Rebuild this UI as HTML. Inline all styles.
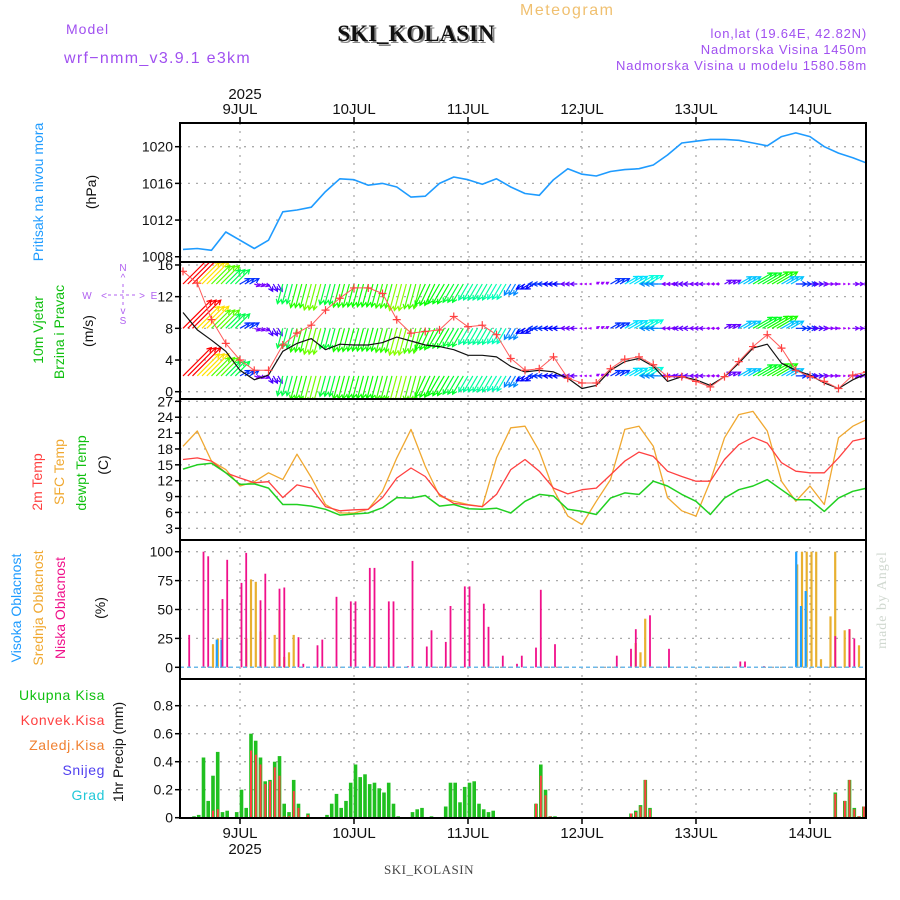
<!DOCTYPE html>
<html><head><meta charset="utf-8"><style>
html,body{margin:0;padding:0;background:#fff;}
svg{display:block;font-family:"Liberation Sans",sans-serif;}
</style></head><body>
<svg id="chart" width="900" height="900" viewBox="0 0 900 900" xmlns="http://www.w3.org/2000/svg">
<g>
<text x="66" y="34" font-size="14" fill="#a050f0" letter-spacing="1">Model</text>
<text x="64" y="63" font-size="16" fill="#a050f0" letter-spacing="1.3">wrf−nmm_v3.9.1 e3km</text>
<text x="520" y="15" font-size="16" fill="#f0c070" letter-spacing="1.5">Meteogram</text>
<text x="418" y="43" font-size="23" font-weight="bold" font-family="Liberation Serif, serif" text-anchor="middle" fill="#888">SKI_KOLASIN</text>
<text x="416" y="41" font-size="23" font-weight="bold" font-family="Liberation Serif, serif" text-anchor="middle" fill="#111">SKI_KOLASIN</text>
<text x="867" y="38" font-size="13" fill="#a050f0" text-anchor="end" letter-spacing="0.8">lon,lat (19.64E, 42.82N)</text>
<text x="867" y="54" font-size="13" fill="#a050f0" text-anchor="end" letter-spacing="0.8">Nadmorska Visina 1450m</text>
<text x="867" y="70" font-size="13" fill="#a050f0" text-anchor="end" letter-spacing="0.8">Nadmorska Visina u modelu 1580.58m</text>
<text x="245" y="99" font-size="15" text-anchor="middle" fill="#111">2025</text>
<text x="384" y="874" font-size="13" font-family="Liberation Serif, serif" fill="#444" letter-spacing="0.5">SKI_KOLASIN</text>
<text x="245" y="854" font-size="15" text-anchor="middle" fill="#111">2025</text>
<text transform="translate(886,600) rotate(-90)" font-size="14" font-family="Liberation Serif, serif" fill="#d0d8d0" text-anchor="middle" letter-spacing="1">made by Angel</text>
</g>
<g>
<text transform="translate(43,192) rotate(-90)" font-size="14" fill="#1e9bff" text-anchor="middle">Pritisak na nivou mora</text>
<text transform="translate(96,192) rotate(-90)" font-size="14" fill="#111" text-anchor="middle">(hPa)</text>
<text transform="translate(43,330) rotate(-90)" font-size="14" fill="#10c010" text-anchor="middle">10m Vjetar</text>
<text transform="translate(64,332) rotate(-90)" font-size="14" fill="#10c010" text-anchor="middle">Brzina i Pravac</text>
<text transform="translate(93,331) rotate(-90)" font-size="14" fill="#111" text-anchor="middle">(m/s)</text>
<g fill="#b060f0" font-size="10" stroke="none">
<text x="123" y="271" text-anchor="middle">N</text>
<text x="87" y="299" text-anchor="middle">W</text>
<text x="154" y="299" text-anchor="middle">E</text>
<text x="123" y="324" text-anchor="middle">S</text>
<text x="123" y="281" text-anchor="middle">^</text>
<text x="123" y="314" text-anchor="middle">v</text>
<text x="104" y="299" text-anchor="middle">&lt;</text>
<text x="142" y="299" text-anchor="middle">&gt;</text>
<line x1="123" y1="284" x2="123" y2="306" stroke="#b060f0" stroke-dasharray="3,3"/>
<line x1="108" y1="295" x2="138" y2="295" stroke="#b060f0" stroke-dasharray="3,3"/>
</g>
<text transform="translate(42,482) rotate(-90)" font-size="14" fill="#ff4040" text-anchor="middle">2m Temp</text>
<text transform="translate(64,472) rotate(-90)" font-size="14" fill="#f0a830" text-anchor="middle">SFC Temp</text>
<text transform="translate(86,473) rotate(-90)" font-size="14" fill="#10c010" text-anchor="middle">dewpt Temp</text>
<text transform="translate(108,465) rotate(-90)" font-size="14" fill="#111" text-anchor="middle">(C)</text>
<text transform="translate(21,608) rotate(-90)" font-size="14" fill="#1e9bff" text-anchor="middle">Visoka Oblacnost</text>
<text transform="translate(43,608) rotate(-90)" font-size="14" fill="#f0a830" text-anchor="middle">Srednja Oblacnost</text>
<text transform="translate(65,608) rotate(-90)" font-size="14" fill="#f0108a" text-anchor="middle">Niska Oblacnost</text>
<text transform="translate(105,608) rotate(-90)" font-size="14" fill="#111" text-anchor="middle">(%)</text>
<text x="105" y="700" font-size="14" fill="#10c010" text-anchor="end" letter-spacing="0.6">Ukupna Kisa</text>
<text x="105" y="725" font-size="14" fill="#ff4040" text-anchor="end" letter-spacing="0.6">Konvek.Kisa</text>
<text x="105" y="750" font-size="14" fill="#f08030" text-anchor="end" letter-spacing="0.6">Zaledj.Kisa</text>
<text x="105" y="775" font-size="14" fill="#5040f0" text-anchor="end" letter-spacing="0.6">Snijeg</text>
<text x="105" y="800" font-size="14" fill="#20c8d8" text-anchor="end" letter-spacing="0.6">Grad</text>
<text transform="translate(123,752) rotate(-90)" font-size="14" fill="#111" text-anchor="middle">1hr Precip (mm)</text>
</g>
<g id="grid"></g>
<g id="marks"></g>
<g id="frame"></g>
</svg>
<script>
// ---- data (3-hourly, hours from 9 JUL 00Z) ----
var hours3 = [-12,-9,-6,-3,0,3,6,9,12,15,18,21,24,27,30,33,36,39,42,45,48,51,54,57,60,63,66,69,72,75,78,81,84,87,90,93,96,99,102,105,108,111,114,117,120,123,126,129,132];
var pressure = [1008.8,1008.9,1008.7,1010.7,1009.8,1008.9,1009.8,1012.9,1013.1,1013.4,1015.1,1016.5,1016.4,1015.8,1016.0,1015.6,1014.5,1014.6,1016.0,1016.7,1016.4,1015.9,1016.5,1015.6,1014.9,1014.7,1016.4,1017.6,1017.0,1016.8,1017.3,1017.5,1017.6,1018.0,1019.1,1020.4,1020.6,1020.8,1020.8,1020.7,1020.4,1020.1,1021.1,1021.5,1021.1,1020.0,1019.3,1018.8,1018.2];
var temp2m = [16.0,16.3,15.7,13.5,12.5,11.6,11.8,8.8,11.2,10.6,7.1,6.3,6.5,6.6,8.8,12.5,14.4,12.8,9.4,7.7,7.4,7.1,9.4,14.1,16.0,13.8,10.6,9.5,10.3,10.6,13.1,15.7,17.4,16.6,13.8,12.8,11.9,11.9,16.0,18.8,20.2,19.1,15.4,13.8,13.5,13.5,16.3,19.5,20.1];
var tempSfc = [18.5,21.4,15.7,14.1,11.0,11.8,13.5,12.2,17.0,12.6,7.5,5.9,5.9,6.6,10.0,16.3,21.7,14.7,9.1,8.1,7.5,7.1,16.3,22.0,22.3,17.6,10.3,5.3,3.7,8.1,12.2,21.7,22.3,18.5,8.8,6.3,5.3,11.9,20.1,24.5,25.1,21.4,11.9,8.1,11.0,7.5,20.1,22.3,23.6];
var tempDew = [14.2,15.0,15.3,13.5,11.3,11.4,10.6,7.5,7.5,7.2,6.6,5.5,5.7,5.9,6.9,8.8,8.7,9.2,7.2,7.5,6.7,6.6,6.8,5.9,8.1,9.4,9.1,6.6,6.2,5.6,8.7,9.7,9.4,11.9,11.0,9.4,8.1,5.6,8.7,10.3,11.0,12.2,10.3,8.4,8.4,6.2,8.7,10.0,10.6];
var windGust = [15.2,13.7,9.1,6.1,4.0,2.7,2.7,5.9,7.4,8.4,10.3,11.8,13.1,13.1,12.4,9.1,7.4,7.6,7.8,9.5,8.2,8.4,7.2,4.2,2.7,2.9,4.4,1.7,1.1,1.1,2.9,4.1,4.4,3.4,1.9,1.9,1.3,0.6,1.9,3.8,5.7,7.2,5.5,2.7,1.9,1.3,0.4,2.1,2.5];
var windSpeed = [10.0,7.8,6.5,5.1,2.7,1.5,2.1,5.1,6.1,6.7,5.3,6.0,5.9,5.9,6.2,6.9,6.4,5.9,5.7,5.3,4.6,4.6,4.4,3.2,2.5,2.7,2.5,1.7,0.4,0.8,2.7,3.8,4.2,3.2,1.3,1.9,1.5,0.8,1.9,3.6,5.5,6.0,3.6,2.7,2.1,1.1,0.4,1.5,2.3];
var windDir = [45,45,45,45,60,110,150,195,195,195,195,195,195,195,195,195,195,205,210,210,210,210,210,210,240,270,270,270,270,60,60,60,60,270,270,270,270,270,60,60,60,60,60,90,90,90,90,90,90];
var pTicks = [1008,1012,1016,1020];
var wTicks = [0,4,8,12,16];
var tTicks = [3,6,9,12,15,18,21,24,27];
var cTicks = [0,25,50,75,100];
var rTicks = [0,0.2,0.4,0.6,0.8];
var rTickLabels = ["0","0.2","0.4","0.6","0.8"];
var dayLabels = ["9JUL","10JUL","11JUL","12JUL","13JUL","14JUL"];
var dayHours = [0,24,48,72,96,120];
// cloud cover events (hour, %)
var lowCloudHours = [-11,-8,-7,-4,-3,0,1,4,5,8,9,12,13,16,17,20,23,24,27,28,31,32,35,36,39,40,43,44,47,48,51,52,55,58,59,62,63,66,79,82,83,86,90,105,106,110,125,128,129];
var lowCloudVals = [28,100,96,59,93,73,99,58,81,68,69,26,3,19,24,61,57,57,86,86,57,57,1,92,18,32,22,53,70,70,55,35,10,3,10,17,67,20,10,16,33,45,16,5,5,1,27,33,25];
var midCloudHours = [-6,-5,1,2,3,4,7,8,9,10,11,83,84,85,117,118,119,120,121,122,124,125,127,128,130];
var midCloudVals = [20,25,25,76,74,31,28,50,9,13,28,21,13,42,89,100,100,100,100,7,44,100,32,33,19];
var highCloudHours = [-5,-4,117,118,119];
var highCloudVals = [24,24,100,53,66];
// precipitation (hour, mm)
var rainHours = [-10,-9,-8,-7,-6,-5,-4,-3,-1,0,1,2,3,4,5,6,7,8,9,10,11,12,14,18,19,20,21,22,23,24,25,26,27,28,29,30,31,32,33,36,37,38,40,43,44,45,46,47,48,49,50,51,52,53,62,63,64,65,66,82,83,84,85,86,125,127,128,129,130,131];
var rainVals = [0.01,0.02,0.43,0.12,0.30,0.47,0.04,0.05,0.04,0.20,0.07,0.60,0.55,0.43,0.26,0.27,0.40,0.44,0.10,0.04,0.27,0.10,0.03,0.02,0.10,0.17,0.07,0.12,0.25,0.38,0.29,0.31,0.24,0.25,0.21,0.18,0.25,0.10,0.01,0.04,0.06,0.07,0.01,0.08,0.25,0.25,0.11,0.22,0.25,0.26,0.10,0.06,0.04,0.05,0.10,0.38,0.20,0.01,0.01,0.03,0.05,0.09,0.27,0.07,0.18,0.12,0.27,0.07,0.01,0.08];
var convHours = [-6,-5,2,3,4,5,6,7,8,9,10,11,12,14,62,63,64,65,82,83,84,85,86,125,127,128,129,130,131];
var convVals = [0.05,0.06,0.48,0.45,0.38,0.24,0.26,0.36,0.30,0.01,0.01,0.19,0.07,0.02,0.10,0.30,0.16,0.01,0.03,0.04,0.08,0.27,0.06,0.17,0.12,0.27,0.06,0.01,0.08];

// ---- scales ----
var L=180, R=866;
function xh(h){return 240 + h*4.75;}
function yP(p){return 146.7 + (1020-p)*9.17;}
function yW(v){return 391.7 - v*7.92;}
function yT(t){return 528.3 - (t-3)*5.29;}
function yC(c){return 667.3 - c*1.156;}
function yR(r){return 817.7 - r*140;}
var panels=[[123,262],[262,399],[399,540],[540,679],[679,818]];
var NS="http://www.w3.org/2000/svg";
function mk(tag, attrs, parent){var e=document.createElementNS(NS,tag);for(var k in attrs)e.setAttribute(k,attrs[k]);parent.appendChild(e);return e;}
var grid=document.getElementById('grid'), marks=document.getElementById('marks'), frame=document.getElementById('frame');

var defs=mk('defs',{},document.getElementById('chart'));
panels.forEach(function(p,i){var c=mk('clipPath',{id:'clip'+i},defs);mk('rect',{x:L,y:p[0],width:R-L,height:p[1]-p[0]},c);});

function hgrid(ticks, yf, labels, name){
  ticks.forEach(function(v,i){
    var y=yf(v);
    var g=mk('line',{x1:L,x2:R,y1:y,y2:y,stroke:'#aaa','stroke-width':1.3,'stroke-dasharray':'2,6'},grid);
    
    
    var tk=mk('line',{x1:L-5,x2:L,y1:y,y2:y,stroke:'#000','stroke-width':1.5},frame);
    
    
    var t=mk('text',{x:L-7,y:y+5,'font-size':14,'text-anchor':'end',fill:'#111'},frame);
    t.textContent = labels ? labels[i] : String(v);
    
    
  });
}
hgrid(pTicks,yP,null,'pressure');
hgrid(wTicks,yW,null,'wind');
hgrid(tTicks,yT,null,'temp');
hgrid(cTicks,yC,null,'cloud');
hgrid(rTicks,yR,rTickLabels,'precip');
dayHours.forEach(function(h,i){
  var x=xh(h);
  var g=mk('line',{x1:x,x2:x,y1:123,y2:818,stroke:'#aaa','stroke-width':1.3,'stroke-dasharray':'2,6'},grid);
  
  
  var t1=mk('text',{x:x,y:114,'font-size':15,'text-anchor':'middle',fill:'#111'},frame);
  t1.textContent=dayLabels[i];
  
  
  var t2=mk('text',{x:x,y:838,'font-size':15,'text-anchor':'middle',fill:'#111'},frame);
  t2.textContent=dayLabels[i];
  
  
  var k1=mk('line',{x1:x,x2:x,y1:117,y2:123,stroke:'#000','stroke-width':1.5},frame);
  
  
  var k2=mk('line',{x1:x,x2:x,y1:818,y2:824,stroke:'#000','stroke-width':1.5},frame);
  
  
});

var fr=mk('rect',{x:L,y:123,width:R-L,height:695,fill:'none',stroke:'#000','stroke-width':2},frame);


[262,399,540,679].forEach(function(y){
  var s=mk('line',{x1:L,x2:R,y1:y,y2:y,stroke:'#000','stroke-width':2},frame);
  
  
});

function line(vals, yf, color, w, clip, name){
  var pts=vals.map(function(v,i){return xh(hours3[i]).toFixed(1)+','+yf(v).toFixed(1);}).join(' ');
  var p=mk('polyline',{points:pts,fill:'none',stroke:color,'stroke-width':w,'clip-path':'url(#clip'+clip+')','stroke-linejoin':'round'},marks);
  
  
  return p;
}
line(pressure,yP,'#1e9bff',1.6,0,'pressure-line');

function speedHue(s){
  var st=[[0,285],[2,262],[3,215],[4,180],[5,140],[6,115],[7,85],[8,45],[9.5,15],[11,-30]];
  for(var i=1;i<st.length;i++){ if(s<=st[i][0]){var a=st[i-1],b=st[i];return a[1]+(b[1]-a[1])*(s-a[0])/(b[0]-a[0]);} }
  return -30;
}
var rowLevels=[13.6,8,2];
var wg=mk('g',{'clip-path':'url(#clip1)'},marks);


windSpeed.forEach(function(s,i){
  var len=4*s, a=windDir[i]*Math.PI/180;
  var dx=Math.sin(a)*len, dy=-Math.cos(a)*len;
  var hue=speedHue(s); if(hue<0)hue+=360;
  var col='hsl('+hue.toFixed(0)+',100%,50%)';
  rowLevels.forEach(function(lv){
    for(var k=0;k<3;k++){
      var x0=xh(hours3[i])+k*4.75, y0=yW(lv);
      var x1=x0+dx, y1=y0+dy;
      var ang=Math.atan2(y1-y0,x1-x0), hl=Math.min(5,len*0.5+1);
      var d='M'+x0.toFixed(1)+','+y0.toFixed(1)+'L'+x1.toFixed(1)+','+y1.toFixed(1)+
        'M'+(x1-hl*Math.cos(ang-0.5)).toFixed(1)+','+(y1-hl*Math.sin(ang-0.5)).toFixed(1)+'L'+x1.toFixed(1)+','+y1.toFixed(1)+
        'L'+(x1-hl*Math.cos(ang+0.5)).toFixed(1)+','+(y1-hl*Math.sin(ang+0.5)).toFixed(1);
      var p=mk('path',{d:d,stroke:col,'stroke-width':1.2,fill:'none'},wg);
      
      
    }
  });
});
line(windSpeed,yW,'#111',1.2,1,'wind-speed-line');
line(windGust,yW,'#ff5a5a',1,1,'wind-gust-line');
windGust.forEach(function(v,i){
  var x=xh(hours3[i]), y=yW(v);
  var c=mk('path',{d:'M'+(x-4)+','+y+'h8M'+x+','+(y-4)+'v8',stroke:'#ff4040','stroke-width':1.2,'clip-path':'url(#clip1)'},marks);
  
  
});

line(tempSfc,yT,'#f0a830',1.3,2,'sfc-temp-line');
line(temp2m,yT,'#ff4040',1.3,2,'temp-2m-line');
line(tempDew,yT,'#20d020',1.5,2,'dewpoint-line');

function bars(hs, vals, yf, x0off, w, color, clip, name, base){
  hs.forEach(function(h,i){
    var x=xh(h)+x0off, y=yf(vals[i]);
    var r=mk('rect',{x:(x-w/2).toFixed(1),y:y.toFixed(1),width:w,height:Math.max(0,base-y).toFixed(1),fill:color,'clip-path':'url(#clip'+clip+')'},marks);
    
    
  });
}
bars(midCloudHours,midCloudVals,yC,1.5,2.2,'#e8b030',3,'mid-cloud-bar',yC(0));
bars(highCloudHours,highCloudVals,yC,0.5,2.2,'#1ea0ff',3,'high-cloud-bar',yC(0));
bars(lowCloudHours,lowCloudVals,yC,1.5,1.8,'#f0108a',3,'low-cloud-bar',yC(0));
var cb=mk('line',{x1:L,x2:R,y1:yC(0),y2:yC(0),stroke:'#6cb8e8','stroke-width':1.5,'stroke-dasharray':'4,3'},marks);



bars(rainHours,rainVals,yR,1.5,3.6,'#20c020',4,'total-rain-bar',yR(0));
bars(convHours,convVals,yR,1.5,2,'#ff4040',4,'convective-rain-bar',yR(0));
var rb=mk('line',{x1:L,x2:R,y1:yR(0),y2:yR(0),stroke:'#000','stroke-width':1.5,'stroke-dasharray':'4,2'},marks);


</script>
</body></html>
